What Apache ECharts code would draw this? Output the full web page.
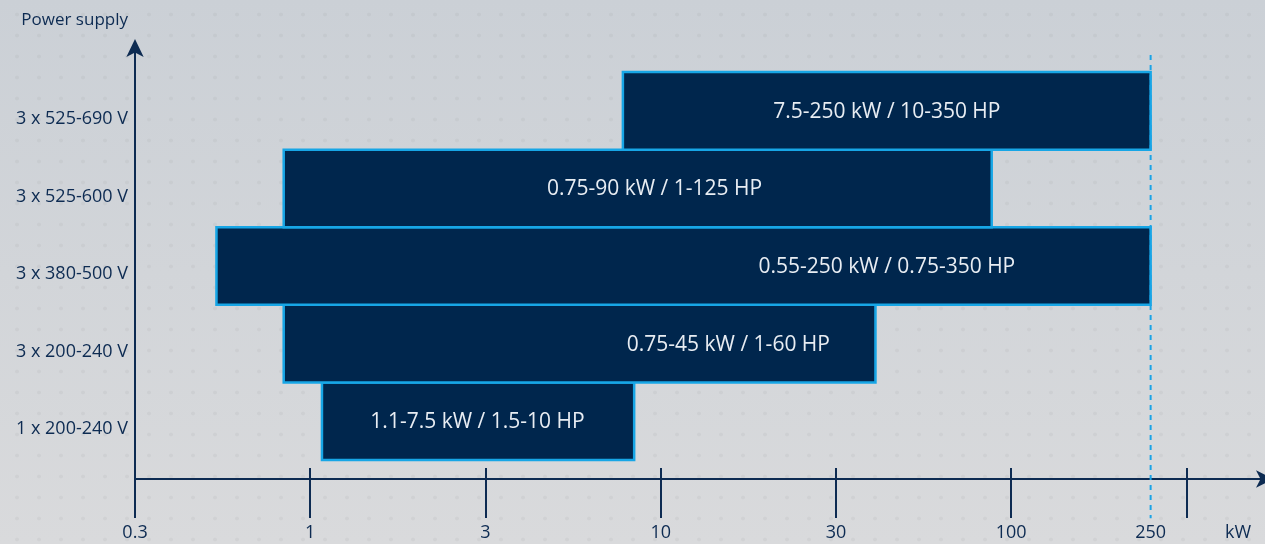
<!DOCTYPE html>
<html>
<head>
<meta charset="utf-8">
<script src="https://cdn.jsdelivr.net/npm/echarts@6/dist/echarts.min.js"></script>
<style>
  html, body { margin: 0; padding: 0; }
  #chart {
    width: 1265px; height: 544px;
    background-color: #d2d5d9;
    background-image:
      radial-gradient(circle, rgba(0,0,0,0.035) 1.6px, transparent 2.2px),
      linear-gradient(to bottom, #cbd0d6, #d9dadc);
    background-size: 22px 21px, 100% 100%;
    background-position: 6px 4px, 0 0;
  }
</style>
</head>
<body>
<div id="chart"></div>
<script>
// ---- data ----
const categories = ['1 x 200-240 V', '3 x 200-240 V', '3 x 380-500 V', '3 x 525-600 V', '3 x 525-690 V'];
const barStartKW = [1.08, 0.84, 0.54, 0.84, 7.8];
const barEndKW   = [8.4, 41, 250, 88, 250];
const barLabels  = ['1.1-7.5 kW / 1.5-10 HP', '0.75-45 kW / 1-60 HP', '0.55-250 kW / 0.75-350 HP',
                    '0.75-90 kW / 1-125 HP', '7.5-250 kW / 10-350 HP'];
const labelAtKW  = [3.0, 15.6, 44.2, 9.6, 44.2];
const limitKW = 250;
// x axis: log scale, ticks at half-decades, labelled as in the original
const xTickValues  = [Math.sqrt(0.1), 1, Math.sqrt(10), 10, Math.sqrt(1000), 100, Math.sqrt(100000)];
const xLabelValues = [Math.sqrt(0.1), 1, Math.sqrt(10), 10, Math.sqrt(1000), 100, 250];
const xLabelTexts  = ['0.3', '1', '3', '10', '30', '100', '250'];

const NAVY = '#0d2b52';
const FONT = '"Open Sans", "Noto Sans", sans-serif';

const seriesData = categories.map((c, i) => [i, barStartKW[i], barEndKW[i], labelAtKW[i]]);

const chart = echarts.init(document.getElementById('chart'), null, { renderer: 'canvas' });
chart.setOption({
  backgroundColor: 'transparent',
  animation: false,
  textStyle: { fontFamily: FONT },
  grid: { left: 135, width: 1131, top: 47, height: 432, containLabel: false },
  xAxis: [{
    type: 'log', logBase: 10,
    min: Math.sqrt(0.1) * 0.9999, max: 530,
    position: 'bottom',
    name: 'kW', nameLocation: 'end', nameGap: -27,
    nameTextStyle: { color: NAVY, fontSize: 18, fontFamily: FONT, align: 'center', verticalAlign: 'top', padding: [45, 0, 0, 0] },
    axisLine: { show: true, onZero: false, symbol: ['none', 'arrow'], symbolSize: [13, 18], symbolOffset: [0, 9], lineStyle: { color: NAVY, width: 2 } },
    axisTick: { show: true, length: 39, customValues: xTickValues, lineStyle: { color: NAVY, width: 2 } },
    axisLabel: {
      customValues: xLabelValues, showMinLabel: true, margin: 45, color: NAVY, fontSize: 18, fontFamily: FONT,
      formatter: v => {
        const k = xLabelValues.findIndex(x => Math.abs(Math.log10(x) - Math.log10(v)) < 0.01);
        return k >= 0 ? xLabelTexts[k] : '';
      }
    },
    splitLine: { show: false }, minorTick: { show: false }
  }, {
    type: 'log', logBase: 10,
    min: Math.sqrt(0.1) * 0.9999, max: 530,
    position: 'bottom', offset: 0,
    axisLine: { show: false, onZero: false },
    axisTick: { show: true, inside: true, length: 11, customValues: xTickValues.slice(1), lineStyle: { color: NAVY, width: 2 } },
    axisLabel: { show: false },
    splitLine: { show: false }
  }],
  yAxis: {
    type: 'value', min: -0.745, max: 4.823,
    name: 'Power supply', nameLocation: 'end', nameGap: 27,
    nameTextStyle: { color: NAVY, fontSize: 17, fontFamily: FONT, align: 'right', verticalAlign: 'middle', padding: [0, 7, 0, 0] },
    axisLine: { show: true, onZero: false, symbol: ['none', 'arrow'], symbolSize: [13, 18], symbolOffset: [0, 8], lineStyle: { color: NAVY, width: 2 } },
    axisTick: { show: false },
    axisLabel: {
      customValues: [0, 1, 2, 3, 4], margin: 7, color: NAVY, fontSize: 18, fontFamily: FONT,
      verticalAlign: 'top', lineHeight: 16,
      formatter: v => categories[Math.round(v)] || ''
    },
    splitLine: { show: false }
  },
  series: [{
    type: 'custom',
    xAxisIndex: 0,
    encode: { x: [1, 2, 3], y: 0 },
    data: seriesData,
    renderItem: (params, api) => {
      const i = api.value(0);
      const p1 = api.coord([api.value(1), i + 0.5]);
      const p2 = api.coord([api.value(2), i - 0.5]);
      const pc = api.coord([api.value(3), i]);
      return {
        type: 'group',
        children: [{
          type: 'rect',
          shape: { x: p1[0], y: p1[1], width: p2[0] - p1[0], height: p2[1] - p1[1] },
          style: { fill: '#00264d', stroke: '#17a6e6', lineWidth: 2.5 }
        }, {
          type: 'text',
          style: {
            text: barLabels[i], x: pc[0], y: pc[1] + 1, align: 'center', verticalAlign: 'middle',
            fill: '#e8edf3', font: '21px ' + FONT
          }
        }]
      };
    }
  }, {
    type: 'line',
    xAxisIndex: 0,
    clip: false,
    silent: true,
    symbol: 'none',
    z: 5,
    lineStyle: { type: [5, 5], color: '#1aa3e6', width: 2 },
    data: [[limitKW, 4.72], [limitKW, -1.25]]
  }]
});
</script>
</body>
</html>
